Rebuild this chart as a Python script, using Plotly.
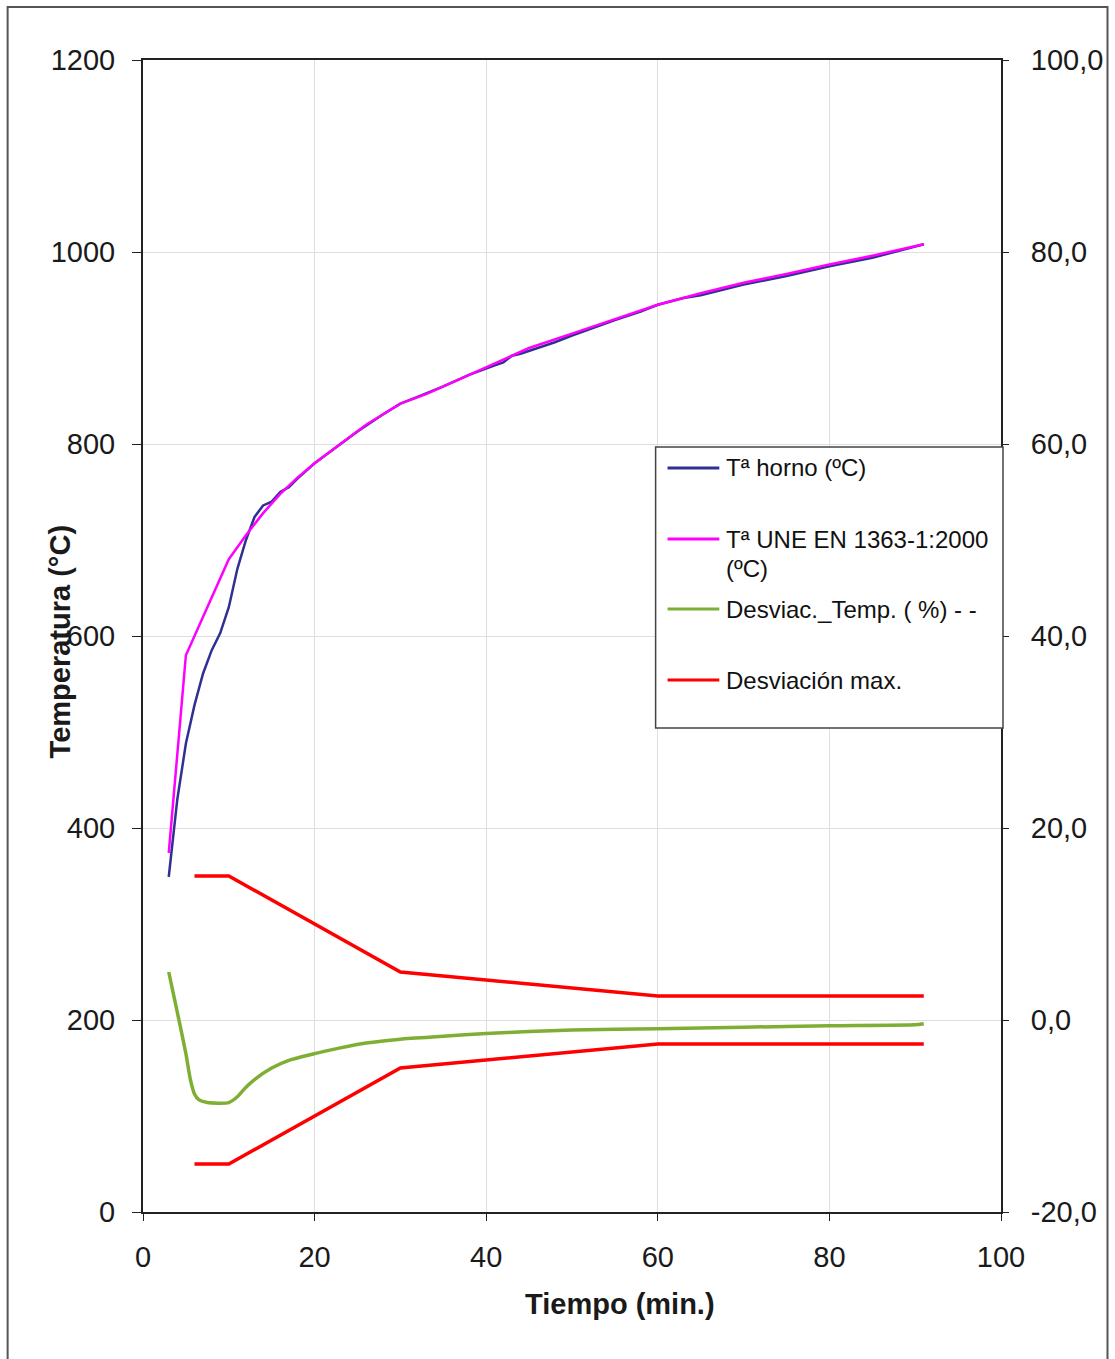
import plotly.graph_objects as go

# ---------------- data ----------------
t_horno = [3, 4, 5, 6, 7, 8, 9, 10, 11, 12, 13, 14, 15, 16, 17, 18, 20, 22, 25, 28, 30,
           32, 35, 38, 40, 41, 42, 43, 44, 46, 48, 50, 53, 55, 58, 60, 63, 65, 70, 75,
           80, 85, 91]
temp_horno = [349, 430, 488, 528, 561, 585, 603, 630, 670, 700, 724, 736, 740, 750, 755,
              764, 780, 793, 813, 831, 842, 849, 860, 872, 879, 882, 885, 892, 894, 900,
              906, 913, 923, 929, 938, 945, 952, 955, 966, 975, 985, 994, 1008]

t_une = [3, 5, 10, 12, 14, 16, 18, 20, 23, 26, 30, 33, 36, 40, 45, 50, 55, 60, 65, 70,
         75, 80, 85, 91]
temp_une = [374, 580, 680, 705, 728, 748, 765, 780, 800, 820, 842, 852, 864, 880, 900,
            915, 930, 945, 957, 968, 977, 987, 996, 1008]

t_desv = [3, 4, 5, 5.5, 6, 6.5, 7.5, 10, 11, 12, 13, 15, 17, 20, 23, 26, 30, 35, 40, 45,
          50, 60, 70, 80, 90, 91]
desv = [5.0, 0.8, -3.5, -6.1, -7.7, -8.3, -8.6, -8.6, -8.0, -7.0, -6.2, -5.0, -4.2, -3.5,
        -2.9, -2.4, -2.0, -1.7, -1.4, -1.2, -1.05, -0.9, -0.75, -0.6, -0.5, -0.4]

t_lim = [6, 10, 30, 60, 91]
lim_sup = [15, 15, 5, 2.5, 2.5]
lim_inf = [-15, -15, -5, -2.5, -2.5]

x_ticks = [0, 20, 40, 60, 80, 100]
y_ticks = [0, 200, 400, 600, 800, 1000, 1200]
y2_ticks = [-20, 0, 20, 40, 60, 80, 100]
y2_labels = ["-20,0", "0,0", "20,0", "40,0", "60,0", "80,0", "100,0"]

legend_names = ["Tª horno (ºC)", "Tª UNE EN 1363-1:2000", "Desviac._Temp. ( %) - -",
                "Desviación max."]

# ---------------- figure ----------------
W, H = 1115, 1359
L, R, T, B = 143, 1005, 60, 1212

def px(x):
    return (x - L) / (R - L)

def py(y):
    return (B - y) / (B - T)

BLUE = "#2e3192"
MAG = "#ff00ff"
GREEN = "#7fae35"
RED = "#ff0000"
FONT = "Liberation Sans, Arial, sans-serif"

fig = go.Figure()
fig.add_trace(go.Scatter(x=t_horno, y=temp_horno, mode="lines", name=legend_names[0],
                         line=dict(color=BLUE, width=2.5), showlegend=False))
fig.add_trace(go.Scatter(x=t_une, y=temp_une, mode="lines", name=legend_names[1],
                         line=dict(color=MAG, width=2.5), showlegend=False))
fig.add_trace(go.Scatter(x=t_desv, y=desv, mode="lines", name=legend_names[2], yaxis="y2",
                         line=dict(color=GREEN, width=3.5, shape="spline", smoothing=0.6),
                         showlegend=False))
fig.add_trace(go.Scatter(x=t_lim, y=lim_sup, mode="lines", name=legend_names[3], yaxis="y2",
                         line=dict(color=RED, width=3.5), showlegend=False))
fig.add_trace(go.Scatter(x=t_lim, y=lim_inf, mode="lines", name=legend_names[3], yaxis="y2",
                         line=dict(color=RED, width=3.5), showlegend=False))

tickfont = dict(family=FONT, size=29, color="#1a1a1a")

fig.update_layout(
    width=W, height=H,
    margin=dict(l=L, r=W - R, t=T, b=H - B),
    paper_bgcolor="white", plot_bgcolor="white",
    font=dict(family=FONT, color="#1a1a1a"),
    xaxis=dict(range=[0, 100], tickvals=x_ticks, ticks="outside", ticklen=7,
               tickcolor="#222", showline=True, linecolor="#222", linewidth=2, mirror=True,
               showgrid=True, gridcolor="#dedede", gridwidth=1, zeroline=False,
               tickfont=tickfont, ticklabelstandoff=11),
    yaxis=dict(range=[0, 1200], tickvals=y_ticks, ticks="outside", ticklen=9,
               tickcolor="#222", showline=True, linecolor="#222", linewidth=2,
               showgrid=True, gridcolor="#dedede", gridwidth=1, zeroline=False,
               tickfont=tickfont, ticklabelstandoff=11),
    yaxis2=dict(range=[-20, 100], tickmode="array", tickvals=y2_ticks, ticktext=y2_labels,
                overlaying="y", side="right", ticks="outside", ticklen=6, tickcolor="#222",
                showline=True, linecolor="#222", linewidth=2, showgrid=False,
                zeroline=False, tickfont=tickfont, ticklabelstandoff=16),
    showlegend=False,
)

shapes = []
annotations = []

# outer chart border
shapes.append(dict(type="rect", xref="paper", yref="paper",
                   x0=px(7), x1=px(1112), y0=py(1366), y1=py(7),
                   line=dict(color="#555", width=2), fillcolor="rgba(0,0,0,0)", layer="below"))

# axis titles
annotations.append(dict(text="<b>Tiempo (min.)</b>", xref="paper", yref="paper",
                        x=px(622), y=py(1304), showarrow=False, xanchor="center",
                        yanchor="middle", font=dict(family=FONT, size=29, color="#1a1a1a")))
annotations.append(dict(text="<b>Temperatura (°C)</b>", xref="paper", yref="paper",
                        x=px(60), y=py(642), showarrow=False, textangle=-90,
                        xanchor="center", yanchor="middle",
                        font=dict(family=FONT, size=29, color="#1a1a1a")))

# manual legend (Excel-style evenly spaced entries)
shapes.append(dict(type="rect", xref="paper", yref="paper",
                   x0=px(658), x1=px(1007), y0=py(728), y1=py(447),
                   line=dict(color="#444", width=1.5), fillcolor="white", layer="above"))
leg_colors = [BLUE, MAG, GREEN, RED]
leg_y = [468, 539, 609, 680]
for name, col, yy in zip(legend_names, leg_colors, leg_y):
    shapes.append(dict(type="line", xref="paper", yref="paper",
                       x0=px(670), x1=px(722), y0=py(yy), y1=py(yy),
                       line=dict(color=col, width=3), layer="above"))
    annotations.append(dict(text=name, xref="paper", yref="paper", x=px(727), y=py(yy),
                            showarrow=False, xanchor="left", yanchor="middle",
                            font=dict(family=FONT, size=24, color="#111")))
annotations.append(dict(text="(ºC)", xref="paper", yref="paper", x=px(727), y=py(568),
                        showarrow=False, xanchor="left", yanchor="middle",
                        font=dict(family=FONT, size=24, color="#111")))

fig.update_layout(shapes=shapes, annotations=annotations)
fig.write_html("out.html", config={"displayModeBar": False},
               post_script="document.body.style.margin='0';document.body.style.overflow='hidden';")
